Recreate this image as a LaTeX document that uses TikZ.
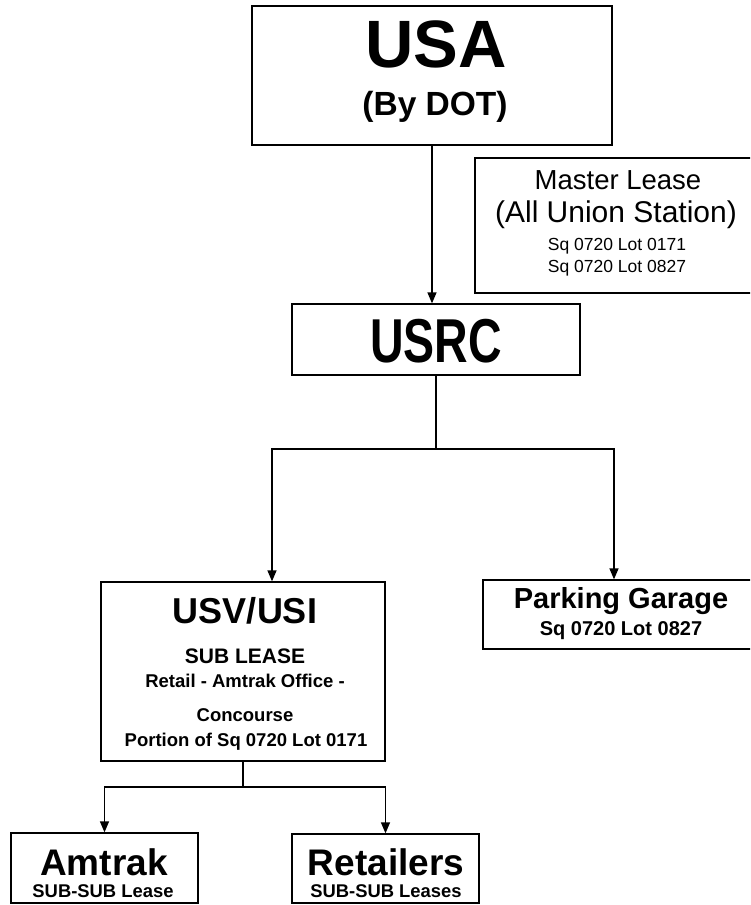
\documentclass[tikz,border=0pt]{standalone}
\usepackage{graphicx, tikz}
\usepackage{fontspec}
\setmainfont{Liberation Sans}
\usetikzlibrary{arrows.meta}
\newcommand{\fsz}[1]{\fontsize{#1}{#1}\selectfont}

\begin{document}
\begin{tikzpicture}[x=1pt, y=-1pt, box/.style={draw, line width=1.3pt}, txt/.style={anchor=base, inner sep=0pt}, arr/.style={line width=1.3pt, -{Triangle[width=9pt,length=11pt]}}]
			\clip (0,0) rectangle (750,905);
			% boxes
			\node[box, minimum width=360, minimum height=139] (usa) at (432,75.5) {};
			\node[box, minimum width=284, minimum height=135] (master) at (617,225.5) {};
			\node[box, minimum width=288, minimum height=71] (usrc) at (436,339.5) {};
			\node[box, minimum width=284, minimum height=179] (usv) at (243,671.5) {};
			\node[box, minimum width=276, minimum height=69] (park) at (621,614.5) {};
			\node[box, minimum width=187, minimum height=70] (amtrak) at (104.5,868) {};
			\node[box, minimum width=187, minimum height=69] (retail) at (385.5,868.5) {};
			% texts
			\node[txt, font=\bfseries\fsz{67}] at (436,67) {USA};
			\node[txt, font=\bfseries\fsz{33.5}] at (435,115) {(By DOT)};
			\node[txt, font=\fsz{27.5}] at (618,189) {Master Lease};
			\node[txt, font=\fsz{30}] at (616,222) {(All Union Station)};
			\node[txt, font=\fsz{17.5}] at (617,250) {Sq 0720 Lot 0171};
			\node[txt, font=\fsz{17.5}] at (617,272) {Sq 0720 Lot 0827};
			\node[txt, font=\bfseries\fsz{62}] at (436,362) {\scalebox{0.75}[1]{USRC}};
			\node[txt, font=\bfseries\fsz{36}] at (245,623) {USV/USI};
			\node[txt, font=\bfseries\fsz{21}] at (245,663) {SUB LEASE};
			\node[txt, font=\bfseries\fsz{18.5}] at (245,687) {Retail - Amtrak Office -};
			\node[txt, font=\bfseries\fsz{18.5}] at (245,721) {Concourse};
			\node[txt, font=\bfseries\fsz{18.5}] at (246,746) {Portion of Sq 0720 Lot 0171};
			\node[txt, font=\bfseries\fsz{29}] at (621,608) {Parking Garage};
			\node[txt, font=\bfseries\fsz{20}] at (621,635) {Sq 0720 Lot 0827};
			\node[txt, font=\bfseries\fsz{37}] at (104,875) {Amtrak};
			\node[txt, font=\bfseries\fsz{18.4}] at (103,897) {SUB-SUB Lease};
			\node[txt, font=\bfseries\fsz{37}] at (386,875) {Retailers};
			\node[txt, font=\bfseries\fsz{18.4}] at (386,897) {SUB-SUB Leases};
			% connectors
			\coordinate (fork) at (436,449);
			\coordinate (fork2) at (243,787);
			\draw[arr] (usa.south) -- (usa.south |- usrc.north);
			\draw[line width=1.3pt] (usrc.south) -- (fork);
			\draw[arr] (fork) -| ([xshift=29pt]usv.north);
			\draw[arr] (fork) -| ([xshift=-7pt]park.north);
			\draw[line width=1.3pt] (usv.south) -- (fork2);
			\draw[arr] (fork2) -| (amtrak.north);
			\draw[arr] (fork2) -| (retail.north);
\end{tikzpicture}
\end{document}
